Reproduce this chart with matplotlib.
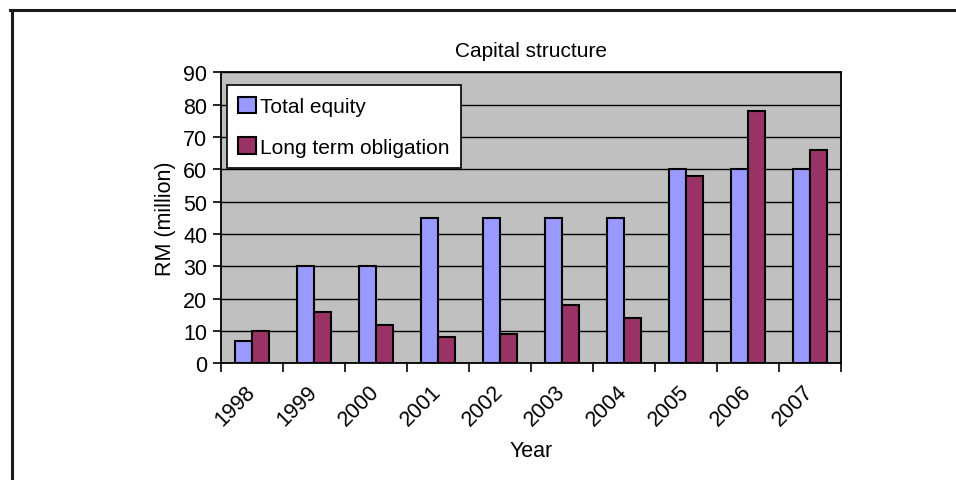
import numpy as np
import matplotlib
matplotlib.use('Agg')
import matplotlib.pyplot as plt
from matplotlib.lines import Line2D

plt.rcParams['font.family'] = ['Liberation Sans', 'DejaVu Sans']

anos = ['1998', '1999', '2000', '2001', '2002', '2003', '2004', '2005', '2006', '2007']
total_equity = [7, 30, 30, 45, 45, 45, 45, 60, 60, 60]
long_term = [10, 16, 12, 8, 9, 18, 14, 58, 78, 66]
yticks = [0, 10, 20, 30, 40, 50, 60, 70, 80, 90]

fig = plt.figure(figsize=(9.56, 4.81), dpi=100)
ax = fig.add_axes([0.2312, 0.2426, 0.6485, 0.605])

x = np.arange(len(anos))
w = 0.28
ax.bar(x - w/2, total_equity, w, color='#9999FF', edgecolor='black', linewidth=1.5, label='Total equity', zorder=3)
ax.bar(x + w/2, long_term, w, color='#993366', edgecolor='black', linewidth=1.5, label='Long term obligation', zorder=3)

ax.set_facecolor('#C0C0C0')
ax.set_xlim(-0.5, len(anos) - 0.5)
ax.set_ylim(0, 90)
ax.set_yticks(yticks)
ax.yaxis.grid(True, color='black', linewidth=1.0, zorder=1)
ax.set_axisbelow(True)
for s in ax.spines.values():
    s.set_color('black')
    s.set_linewidth(1.3)

# rótulos no centro, marcas nas divisas entre categorias
ax.set_xticks(x)
ax.set_xticklabels(anos, rotation=45, ha='right', va='center', rotation_mode='anchor')
ax.set_xticks(np.arange(len(anos) + 1) - 0.5, minor=True)
ax.tick_params(axis='x', which='major', length=0, pad=18, labelsize=15.5)
ax.tick_params(axis='x', which='minor', length=6.5, width=1.2, direction='out')
ax.tick_params(axis='y', length=6, width=1.2, direction='out', pad=4, labelsize=15.5)

ax.set_title('Capital structure', fontsize=15, pad=12)
ax.set_xlabel('Year', fontsize=15.5)
ax.set_ylabel('RM (million)', fontsize=15.5)
ax.xaxis.set_label_coords(0.5, -0.263)
ax.yaxis.set_label_coords(-0.073, 0.5)

leg = ax.legend(loc='upper left', bbox_to_anchor=(0.0092, 0.955), borderaxespad=0,
                fontsize=15, frameon=True, fancybox=False, framealpha=1,
                edgecolor='black', handlelength=0.85, handleheight=0.85,
                handletextpad=0.2, labelspacing=1.0, borderpad=0.55)
leg.get_frame().set_linewidth(1.2)

# moldura do quadro: só topo e esquerda
fig.add_artist(Line2D([10/956, 1], [0.9765, 0.9765], color='#1a1a1a', linewidth=2.2, transform=fig.transFigure))
fig.add_artist(Line2D([12/956, 12/956], [0, 0.9765], color='#1a1a1a', linewidth=2.2, transform=fig.transFigure))

fig.savefig('out.png', dpi=100)
